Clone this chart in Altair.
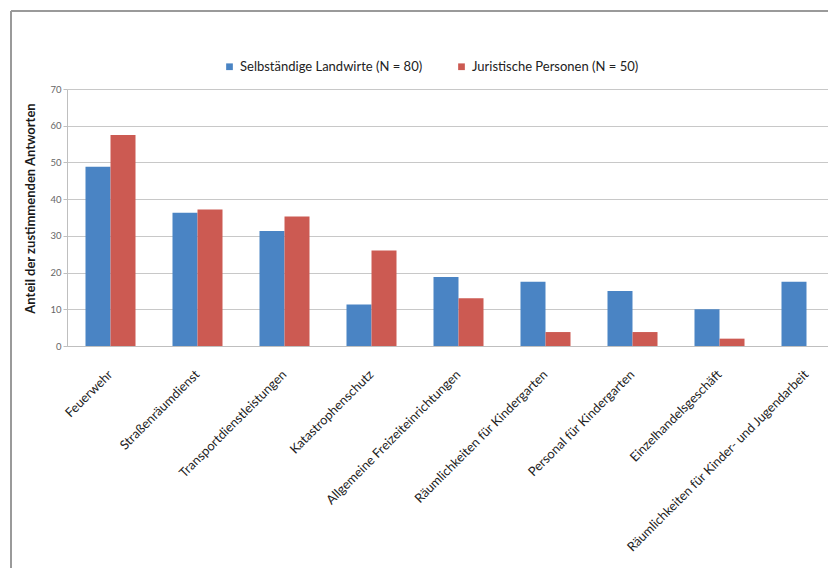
import altair as alt
import pandas as pd

# Categories of municipal services and share of agreeing answers (%)
categories = [
    "Feuerwehr",
    "Straßenräumdienst",
    "Transportdienstleistungen",
    "Katastrophenschutz",
    "Allgemeine Freizeiteinrichtungen",
    "Räumlichkeiten für Kindergarten",
    "Personal für Kindergarten",
    "Einzelhandelsgeschäft",
    "Räumlichkeiten für Kinder- und Jugendarbeit",
]
series = ["Selbständige Landwirte (N = 80)", "Juristische Personen (N = 50)"]
landwirte = [48.8, 36.3, 31.3, 11.3, 18.8, 17.5, 15.0, 10.0, 17.5]
juristische = [57.5, 37.2, 35.3, 26.0, 13.0, 3.8, 3.8, 2.0, 0.0]
colors = ["#4A84C4", "#CC5A52"]

rows = []
for cat, a, b in zip(categories, landwirte, juristische):
    rows.append({"Kategorie": cat, "Gruppe": series[0], "Anteil": a})
    rows.append({"Kategorie": cat, "Gruppe": series[1], "Anteil": b})
df = pd.DataFrame(rows)

FONT = "Lato"
W, H = 761, 257

bars = alt.Chart(df).mark_bar(size=25).encode(
    x=alt.X(
        "Kategorie:N",
        sort=categories,
        scale=alt.Scale(range=[0, 783], paddingInner=0.425, paddingOuter=0.2125),
        axis=alt.Axis(
            title=None,
            labelAngle=-45,
            labelAlign="right",
            labelBaseline="middle",
            labelPadding=26,
            labelFont=FONT,
            labelFontSize=12.8,
            labelColor="#222222",
            ticks=False,
            domainColor="#BFBFBF",
            labelLimit=400,
        ),
    ),
    xOffset=alt.XOffset("Gruppe:N", sort=series),
    y=alt.Y(
        "Anteil:Q",
        scale=alt.Scale(domain=[0, 70], nice=False),
        axis=alt.Axis(
            title="Anteil der zustimmenden Antworten",
            titleFont=FONT,
            titleFontSize=13,
            titleFontWeight="bold",
            titleColor="#1A1A1A",
            titlePadding=12,
            titleY=119,
            values=[0, 10, 20, 30, 40, 50, 60, 70],
            labelFont=FONT,
            labelFontSize=9.5,
            labelColor="#666666",
            tickColor="#BFBFBF",
            tickSize=4,
            domainColor="#BFBFBF",
            gridColor="#C8C8C8",
        ),
    ),
    color=alt.Color(
        "Gruppe:N",
        sort=series,
        scale=alt.Scale(domain=series, range=colors),
        legend=alt.Legend(
            title=None,
            orient="none",
            direction="horizontal",
            legendX=156,
            legendY=-29,
            symbolType="square",
            symbolSize=45,
            symbolStrokeWidth=0,
            labelFont=FONT,
            labelFontSize=13,
            labelColor="#222222",
            labelLimit=400,
            columnPadding=32,
        ),
    ),
)

# Frame of the chart area: left and top edges
frame_left = alt.Chart(df).mark_rule(color="#9A9A9A", strokeWidth=1.5).encode(
    x=alt.value(-56), y=alt.value(-78), y2=alt.value(H + 230)
)
frame_top = alt.Chart(df).mark_rule(color="#9A9A9A", strokeWidth=1.5).encode(
    x=alt.value(-56), x2=alt.value(W + 10), y=alt.value(-78)
)

chart = (
    alt.layer(bars, frame_left, frame_top)
    .properties(
        width=W,
        height=H,
        autosize=alt.AutoSizeParams(type="none"),
        padding={"left": 67, "top": 89, "right": 0, "bottom": 222},
        background="white",
    )
    .configure_view(strokeWidth=0, strokeOpacity=0, clip=False)
)

chart.save("out.html", embed_options={"renderer": "svg", "actions": False})
